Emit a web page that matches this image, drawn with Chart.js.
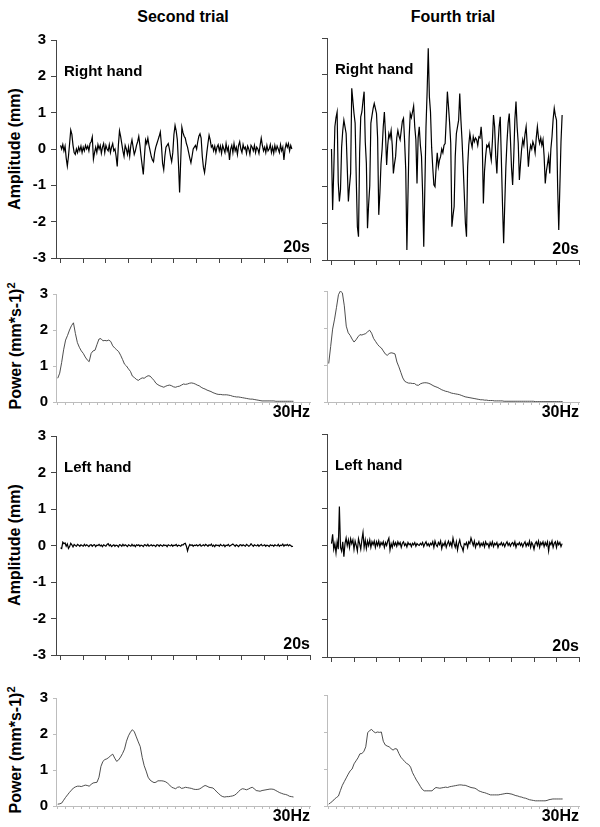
<!DOCTYPE html>
<html>
<head>
<meta charset="utf-8">
<script src="https://cdn.jsdelivr.net/npm/chart.js@4.4.1/dist/chart.umd.min.js"></script>
<style>
  body { margin: 0; background: #fff; }
  #fig { position: relative; width: 600px; height: 827px; background: #fff;
         font-family: "Liberation Sans", Arial, sans-serif; color: #000; }
  #fig canvas { position: absolute; }
  .head { position: absolute; transform: translate(-50%, -50%); font-weight: bold; font-size: 16px; white-space: nowrap; }
  .ytitle { position: absolute; left: 15px; transform: translate(-50%, -50%) rotate(-90deg);
            font-weight: bold; font-size: 16px; white-space: nowrap; }
  .ytitle sup { font-size: 11px; }
</style>
</head>
<body>
<div id="fig">
  <div class="head" style="left:183px;top:17px">Second trial</div>
  <div class="head" style="left:453px;top:17px">Fourth trial</div>
  <div class="ytitle" style="top:149px">Amplitude (mm)</div>
  <div class="ytitle" style="top:346px">Power (mm*s-1)<sup>2</sup></div>
  <div class="ytitle" style="top:545px">Amplitude (mm)</div>
  <div class="ytitle" style="top:750px">Power (mm*s-1)<sup>2</sup></div>

  <canvas id="c1" width="318" height="246" style="left:0;top:26px"></canvas>
  <canvas id="c2" width="288" height="246" style="left:312px;top:26px"></canvas>
  <canvas id="c3" width="318" height="142" style="left:0;top:280px"></canvas>
  <canvas id="c4" width="288" height="142" style="left:312px;top:280px"></canvas>
  <canvas id="c5" width="318" height="247" style="left:0;top:422px"></canvas>
  <canvas id="c6" width="288" height="247" style="left:312px;top:422px"></canvas>
  <canvas id="c7" width="318" height="143" style="left:0;top:684px"></canvas>
  <canvas id="c8" width="288" height="143" style="left:312px;top:684px"></canvas>
</div>
<script>
// tick values
const ampTicks = [-3, -2, -1, 0, 1, 2, 3];
const powerTicks = [0, 1, 2, 3];
const timeTicks = [0, 2, 4, 6, 8, 10, 12, 14, 16, 18, 20, 22];
const freqTicks = [0, 1, 2, 3, 4, 5, 6, 7, 8, 9, 10, 11, 12, 13, 14, 15, 16,
                   17, 18, 19, 20, 21, 22, 23, 24, 25, 26, 27, 28, 29, 30, 31, 32];

// sampling steps (s, Hz)
const dtAmp = 0.1;
const dfPower = 0.25;

// amplitude traces (mm), one sample every 0.1 s
const rightSecond = [
  0.1, 0.0, 0.12, -0.05, 0.08, -0.25, -0.47, -0.2, 0.15, 0.52,
  0.4, 0.1, -0.1, -0.15, 0.0, -0.1, 0.05, -0.05, 0.08, -0.1,
  0.05, -0.05, 0.1, 0.0, 0.08, -0.05, 0.15, 0.2, 0.33, -0.28,
  -0.1, 0.05, -0.1, 0.12, 0.0, 0.1, -0.12, 0.05, 0.15, -0.1,
  0.1, 0.0, -0.05, 0.12, -0.1, 0.05, 0.15, -0.05, 0.0, -0.2,
  -0.48, 0.1, 0.5, 0.35, 0.15, -0.05, -0.2, 0.1, 0.0, -0.15,
  0.05, -0.2, 0.1, 0.25, 0.05, -0.15, -0.05, 0.1, 0.2, 0.35,
  0.1, -0.2, -0.45, -0.7, -0.2, 0.25, 0.15, 0.3, 0.1, -0.05,
  -0.2, -0.3, -0.35, -0.1, 0.05, 0.15, 0.25, 0.35, 0.47, 0.1,
  -0.4, -0.57, -0.2, 0.05, 0.1, 0.15, 0.0, -0.2, -0.35, -0.1,
  0.4, 0.65, 0.5, 0.25, -0.4, -1.2, -0.3, 0.6, 0.45, 0.35,
  0.3, 0.15, 0.05, -0.1, -0.25, -0.38, -0.2, 0.0, 0.05, 0.1,
  0.0, 0.2, 0.35, 0.42, 0.3, -0.2, -0.5, -0.65, -0.4, -0.1,
  0.15, 0.38, 0.25, 0.05, 0.1, -0.05, 0.08, -0.1, 0.05, 0.12,
  -0.05, 0.08, -0.12, 0.1, 0.0, -0.1, 0.15, -0.05, 0.05, -0.3,
  0.0, 0.1, -0.1, 0.15, -0.05, 0.05, -0.15, 0.1, 0.2, 0.0,
  -0.1, 0.12, 0.0, 0.05, -0.12, 0.08, 0.0, -0.15, 0.1, 0.05,
  -0.05, 0.1, -0.1, 0.05, 0.0, -0.12, 0.1, 0.3, 0.1, -0.05,
  0.05, -0.1, 0.1, -0.05, 0.0, 0.12, -0.1, 0.05, -0.12, 0.1,
  -0.05, 0.08, 0.0, -0.1, 0.12, -0.05, 0.05, -0.3, 0.0, 0.15,
  0.05, 0.15, -0.05, 0.1, 0.0
];

const rightFourth = [
  0.0, -1.65, -0.6, 0.6, 0.85, 1.0, -0.9, -1.42, -1.1, 0.05,
  0.5, 0.78, 0.6, 0.42, -0.5, -1.42, -1.0, -0.66, 1.64, 1.3,
  0.96, 0.7, -0.8, -2.1, -2.37, -0.1, 0.87, 1.0, 1.3, 1.55,
  0.2, -0.39, -2.14, -1.5, -1.0, 0.7, 0.9, 1.1, 1.23, 1.1,
  0.96, 0.3, -1.78, -1.2, -0.4, 0.0, 0.6, 1.0, 0.4, -0.43,
  0.1, 0.42, 0.3, 0.5, 0.1, -0.66, -0.4, -0.2, 0.3, 0.5,
  0.35, 0.25, 0.5, 0.75, 0.83, 0.2, -0.57, -2.73, -1.2, 0.3,
  0.96, 0.85, 1.0, 1.16, 0.6, 0.25, -0.93, 0.3, 0.6, 0.1,
  -0.2, -1.2, -2.64, -1.0, 0.6, 1.55, 2.72, 1.41, 1.0, 0.05,
  -0.5, -0.97, -1.02, -0.5, -0.1, -0.48, -0.3, -0.2, 0.0, -0.1,
  0.1, 0.15, 0.8, 1.55, 1.14, 0.7, 0.15, -2.1, -1.8, -1.56,
  -0.2, 0.42, 0.6, 0.78, 1.5, 0.8, 0.25, -0.43, -1.2, -2.0,
  -2.37, -0.48, 0.1, 0.42, 0.2, 0.05, 0.33, 0.2, 0.3, 0.25,
  0.1, 0.33, 0.3, 0.6, 0.2, -1.47, -0.6, -0.2, 0.1, 0.05,
  0.15, -0.1, -0.3, 0.2, 0.92, 0.6, -0.2, -0.66, 0.1, 0.6,
  0.87, -0.3, -1.5, -2.55, -1.5, -0.48, 0.2, 0.7, 0.96, 0.3,
  -0.5, -0.97, -0.2, 0.8, 1.28, 0.6, 0.15, -0.84, -0.4, 0.0,
  0.25, 0.1, 0.4, 0.6, 0.1, -0.48, -0.1, 0.1, 0.0, 0.2,
  0.1, -0.1, 0.3, 0.6, 0.3, 0.15, 0.3, 0.1, 0.25, -0.2,
  -0.93, -0.6, -0.4, -0.2, -0.66, 0.0, 0.33, 0.8, 1.1, 0.9,
  0.78, -1.0, -2.19, -1.0, 0.2, 0.92
];

const leftSecond = [
  -0.06, -0.08, 0.09, 0.05, 0.07, -0.02, 0.04, -0.08, -0.03, 0.06,
  0.02, -0.04, 0.03, 0.0, -0.02, 0.03, 0.01, -0.02, 0.02, 0.0,
  -0.02, 0.03, -0.01, 0.02, 0.0, -0.03, 0.01, 0.02, -0.02, 0.01,
  0.02, -0.03, 0.01, 0.0, 0.03, -0.01, 0.01, -0.03, 0.02, 0.0,
  -0.02, 0.03, 0.05, -0.01, 0.02, -0.03, 0.0, 0.02, -0.02, 0.01,
  0.0, -0.04, 0.02, 0.01, -0.02, 0.03, -0.01, 0.02, 0.0, -0.03,
  0.02, 0.0, -0.02, 0.03, -0.01, 0.01, -0.03, 0.02, 0.0, 0.02,
  -0.02, 0.01, 0.0, -0.03, 0.02, 0.01, -0.01, 0.03, -0.02, 0.0,
  0.02, -0.01, 0.01, 0.0, -0.03, 0.02, 0.01, -0.02, 0.02, 0.0,
  -0.02, 0.02, 0.0, 0.01, -0.03, 0.02, 0.0, -0.01, 0.02, -0.02,
  0.01, 0.0, 0.03, -0.02, 0.01, 0.0, -0.02, 0.02, 0.01, 0.05,
  0.06, -0.02, -0.15, -0.04, 0.03, 0.0, 0.02, -0.02, 0.01, 0.0,
  0.02, -0.01, 0.01, 0.03, -0.02, 0.0, 0.02, -0.01, 0.03, 0.01,
  -0.02, 0.02, 0.0, 0.04, -0.02, 0.01, -0.03, 0.02, 0.0, 0.01,
  -0.02, 0.03, 0.0, -0.01, 0.02, -0.03, 0.01, 0.0, 0.03, -0.02,
  0.0, 0.02, 0.04, 0.01, -0.02, 0.02, 0.0, -0.03, 0.01, 0.02,
  -0.01, 0.02, 0.0, -0.02, 0.03, 0.01, -0.02, 0.0, 0.05, 0.01,
  -0.02, 0.02, 0.0, -0.01, 0.02, -0.02, 0.01, 0.03, -0.01, 0.0,
  0.02, -0.02, 0.01, 0.0, -0.03, 0.02, 0.0, 0.01, -0.02, 0.02,
  0.0, -0.01, 0.03, -0.02, 0.01, 0.0, 0.04, -0.02, 0.02, 0.0,
  0.03, -0.01, 0.02, 0.0, -0.03, -0.02
];

const leftFourth = [
  0.05, 0.3, -0.1, 0.05, -0.2, 0.1, -0.1, 1.05, -0.05, -0.15,
  0.1, -0.3, 0.05, 0.2, 0.0, 0.15, -0.05, 0.18, 0.05, 0.15,
  -0.1, 0.12, 0.0, -0.15, 0.18, 0.05, -0.1, 0.15, 0.35, -0.05,
  0.15, -0.08, 0.12, 0.0, 0.15, -0.05, 0.1, 0.02, 0.12, -0.05,
  0.1, 0.0, 0.12, -0.03, 0.08, 0.02, 0.1, -0.05, 0.08, 0.0,
  0.12, 0.2, -0.12, 0.05, -0.05, 0.1, 0.0, 0.08, -0.02, 0.1,
  0.02, 0.08, -0.05, 0.06, 0.1, 0.0, 0.05, -0.04, 0.08, 0.02,
  0.05, -0.03, 0.06, 0.02, 0.08, -0.02, 0.05, 0.02, 0.0, 0.06,
  0.02, 0.08, -0.03, 0.05, 0.1, 0.0, 0.05, -0.02, 0.06, 0.02,
  0.1, -0.05, 0.12, 0.02, -0.03, 0.08, 0.02, 0.12, -0.08, 0.05,
  0.0, 0.1, -0.05, 0.05, 0.12, 0.0, 0.08, -0.03, 0.2, 0.05,
  -0.05, 0.1, -0.12, 0.05, 0.15, 0.0, -0.05, -0.15, 0.05, 0.02,
  0.08, -0.05, 0.1, 0.05, 0.2, 0.1, 0.0, 0.12, -0.05, 0.06,
  0.02, 0.1, -0.03, 0.06, 0.0, 0.08, -0.04, 0.1, 0.02, 0.05,
  -0.05, 0.08, 0.0, 0.1, -0.03, 0.06, 0.02, 0.08, -0.05, 0.04,
  0.02, 0.08, 0.0, 0.06, -0.03, 0.05, 0.1, 0.0, 0.06, -0.02,
  0.05, 0.08, 0.0, 0.1, -0.05, 0.05, 0.02, 0.08, 0.0, 0.06,
  -0.03, 0.05, 0.1, -0.02, 0.06, 0.0, 0.12, -0.05, 0.08, 0.02,
  -0.1, 0.05, 0.1, 0.0, 0.12, -0.05, 0.08, 0.02, 0.1, -0.03,
  0.08, 0.0, 0.1, -0.15, 0.08, 0.02, 0.12, -0.05, 0.06, 0.1,
  -0.05, 0.1, 0.02, 0.08, -0.03, 0.05
];

// power spectra, (mm*s-1)^2, one value every 0.25 Hz from 0 to 30 Hz
const powRightSecond = [
  0.66, 0.8, 1.1, 1.45, 1.72, 1.85, 2.0, 2.12, 2.2, 1.9,
  1.65, 1.52, 1.42, 1.35, 1.25, 1.17, 1.12, 1.35, 1.42, 1.44,
  1.6, 1.75, 1.76, 1.7, 1.71, 1.7, 1.72, 1.68, 1.56, 1.5,
  1.45, 1.4, 1.3, 1.18, 1.05, 1.0, 0.92, 0.85, 0.72, 0.68,
  0.63, 0.6, 0.64, 0.67, 0.66, 0.7, 0.73, 0.72, 0.66, 0.6,
  0.52, 0.48, 0.45, 0.43, 0.41, 0.44, 0.46, 0.47, 0.45, 0.42,
  0.41, 0.43, 0.44, 0.47, 0.5, 0.49, 0.5, 0.52, 0.53, 0.52,
  0.5, 0.47, 0.45, 0.41, 0.38, 0.36, 0.33, 0.31, 0.29, 0.26,
  0.24, 0.22, 0.21, 0.21, 0.2, 0.2, 0.2, 0.19, 0.18, 0.16,
  0.15, 0.14, 0.14, 0.13, 0.12, 0.11, 0.1, 0.09, 0.08, 0.08,
  0.07, 0.06, 0.05, 0.04, 0.03, 0.03, 0.03, 0.03, 0.03, 0.03,
  0.03, 0.02, 0.02, 0.02, 0.02, 0.02, 0.02, 0.02, 0.02, 0.02,
  0.02
];

const powRightFourth = [
  1.04, 1.5, 1.97, 2.24, 2.56, 2.9, 3.0, 2.95, 2.6, 2.05,
  1.87, 1.8, 1.7, 1.62, 1.68, 1.76, 1.82, 1.81, 1.83, 1.85,
  1.9, 1.94, 1.86, 1.72, 1.64, 1.56, 1.5, 1.46, 1.38, 1.3,
  1.26, 1.31, 1.33, 1.32, 1.3, 1.08, 0.95, 0.8, 0.65, 0.56,
  0.53, 0.51, 0.51, 0.5, 0.5, 0.46, 0.45, 0.49, 0.51, 0.52,
  0.52, 0.51, 0.49, 0.46, 0.43, 0.41, 0.39, 0.36, 0.33, 0.31,
  0.29, 0.28, 0.26, 0.24, 0.23, 0.22, 0.21, 0.2, 0.18, 0.16,
  0.14, 0.13, 0.12, 0.11, 0.1, 0.09, 0.08, 0.07, 0.06, 0.06,
  0.05, 0.05, 0.04, 0.04, 0.04, 0.03, 0.03, 0.03, 0.03, 0.03,
  0.02, 0.02, 0.02, 0.02, 0.02, 0.02, 0.02, 0.02, 0.02, 0.02,
  0.02, 0.02, 0.02, 0.02, 0.02, 0.02, 0.01, 0.01, 0.01, 0.01,
  0.01, 0.01, 0.01, 0.01, 0.01, 0.01, 0.01, 0.01, 0.01, 0.01,
  0.01
];

const powLeftSecond = [
  0.05, 0.06, 0.08, 0.16, 0.24, 0.31, 0.38, 0.44, 0.5, 0.53,
  0.55, 0.55, 0.54, 0.56, 0.58, 0.57, 0.55, 0.6, 0.64, 0.65,
  0.66, 0.8, 1.1, 1.24, 1.29, 1.31, 1.35, 1.4, 1.44, 1.33,
  1.24, 1.28, 1.36, 1.46, 1.58, 1.8, 1.95, 2.05, 2.12, 2.06,
  1.92, 1.78, 1.65, 1.35, 1.12, 0.97, 0.8, 0.72, 0.68, 0.65,
  0.66, 0.7, 0.7, 0.7, 0.69, 0.67, 0.63, 0.58, 0.52, 0.5,
  0.48, 0.52, 0.53, 0.49, 0.5, 0.52, 0.51, 0.5, 0.49, 0.47,
  0.46, 0.46, 0.47, 0.5, 0.54, 0.57, 0.55, 0.52, 0.51, 0.5,
  0.45, 0.39, 0.34, 0.29, 0.26, 0.25, 0.26, 0.26, 0.27, 0.28,
  0.3, 0.34, 0.4, 0.45, 0.48, 0.47, 0.45, 0.47, 0.5, 0.52,
  0.48, 0.43, 0.42, 0.41, 0.43, 0.44, 0.45, 0.46, 0.47, 0.47,
  0.46, 0.43, 0.4, 0.37, 0.35, 0.33, 0.32, 0.3, 0.27, 0.26,
  0.25
];

const powLeftFourth = [
  0.05, 0.09, 0.13, 0.19, 0.23, 0.27, 0.42, 0.56, 0.66, 0.76,
  0.86, 0.95, 1.0, 1.14, 1.22, 1.3, 1.41, 1.42, 1.47, 1.6,
  1.98, 2.04, 2.07, 2.01, 1.98, 2.0, 1.99, 2.0, 1.75, 1.65,
  1.62, 1.6, 1.55, 1.51, 1.55, 1.54, 1.42, 1.32, 1.26, 1.2,
  1.15, 1.12, 1.05, 0.9, 0.8, 0.7, 0.62, 0.53, 0.45, 0.41,
  0.41, 0.41, 0.41, 0.41, 0.46, 0.5, 0.49, 0.48, 0.49, 0.5,
  0.51, 0.5, 0.52, 0.53, 0.54, 0.55, 0.56, 0.57, 0.57, 0.56,
  0.56, 0.54, 0.52, 0.5, 0.49, 0.48, 0.45, 0.41, 0.39, 0.37,
  0.36, 0.34, 0.32, 0.3, 0.3, 0.3, 0.3, 0.3, 0.31, 0.32,
  0.33, 0.34, 0.34, 0.33, 0.32, 0.3, 0.28, 0.27, 0.25, 0.24,
  0.22, 0.21, 0.19, 0.17, 0.16, 0.15, 0.14, 0.14, 0.14, 0.14,
  0.14, 0.14, 0.15, 0.17, 0.18, 0.19, 0.19, 0.19, 0.19, 0.19,
  0.19
];

const FONT = '"Liberation Sans", Arial, sans-serif';
Chart.defaults.font.family = FONT;

// in-panel labels ("Right hand", "20s", "30Hz")
const panelText = {
  id: 'panelText',
  afterDraw(chart, args, opts) {
    const { ctx, chartArea: a } = chart;
    ctx.save();
    ctx.fillStyle = '#000';
    ctx.textBaseline = 'middle';
    if (opts.label) {
      ctx.font = 'bold 15px ' + FONT;
      ctx.textAlign = 'left';
      ctx.fillText(opts.label, a.left + 8, a.top + 32);
    }
    if (opts.unit) {
      ctx.font = 'bold 16px ' + FONT;
      ctx.textAlign = 'right';
      ctx.fillText(opts.unit, a.right, opts.below ? a.bottom + 11 : a.bottom - 10);
    }
    ctx.restore();
  }
};

function toPoints(vals, step) {
  return vals.map((v, i) => ({ x: i * step, y: v }));
}

function drawPanel(id, p) {
  const amp = p.kind === 'amp';
  const left = p.col === 'left';
  const axisColor = amp ? '#444' : '#bdbdbd';
  new Chart(document.getElementById(id), {
    type: 'line',
    data: {
      datasets: [{
        data: toPoints(p.values, amp ? dtAmp : dfPower),
        borderColor: amp ? '#000' : '#3a3a3a',
        borderWidth: amp ? 1.2 : 0.9,
        pointRadius: 0,
        tension: 0,
      }]
    },
    options: {
      responsive: false,
      animation: false,
      events: [],
      layout: { padding: { top: p.padTop, right: left ? 8 : 21, left: 0, bottom: 0 } },
      plugins: {
        legend: { display: false },
        tooltip: { enabled: false },
        panelText: { label: p.label, unit: amp ? '20s' : '30Hz', below: !amp },
      },
      scales: {
        x: {
          type: 'linear',
          bounds: 'data',
          min: amp ? -0.4 : -0.22,
          max: amp ? 22 : 32.1,
          afterBuildTicks: (s) => { s.ticks = (amp ? timeTicks : freqTicks).map(v => ({ value: v })); },
          afterFit: (s) => { s.height = p.xAxisH; },
          ticks: { display: false, autoSkip: false },
          grid: { drawOnChartArea: false, drawTicks: true, tickLength: amp ? 5 : 3, color: axisColor },
          border: { display: true, color: axisColor, width: 1 },
        },
        y: {
          type: 'linear',
          bounds: 'data',
          min: amp ? -3 : 0,
          max: 3,
          afterBuildTicks: (s) => { s.ticks = (amp ? ampTicks : powerTicks).map(v => ({ value: v })); },
          afterFit: (s) => { s.width = left ? 56 : 15; },
          ticks: {
            display: left,
            autoSkip: false,
            color: '#000',
            padding: 5,
            font: { size: 15, weight: 'bold' },
          },
          grid: { drawOnChartArea: false, drawTicks: true, tickLength: amp ? 5 : 3, color: axisColor },
          border: { display: true, color: axisColor, width: 1 },
        },
      },
    },
    plugins: [panelText],
  });
}

drawPanel('c1', { kind: 'amp', col: 'left', values: rightSecond, label: 'Right hand', padTop: 12, xAxisH: 12 });
drawPanel('c2', { kind: 'amp', col: 'right', values: rightFourth, label: 'Right hand', padTop: 12, xAxisH: 12 });
drawPanel('c3', { kind: 'power', col: 'left', values: powRightSecond, padTop: 11, xAxisH: 20 });
drawPanel('c4', { kind: 'power', col: 'right', values: powRightFourth, padTop: 11, xAxisH: 20 });
drawPanel('c5', { kind: 'amp', col: 'left', values: leftSecond, label: 'Left hand', padTop: 12, xAxisH: 12 });
drawPanel('c6', { kind: 'amp', col: 'right', values: leftFourth, label: 'Left hand', padTop: 12, xAxisH: 12 });
drawPanel('c7', { kind: 'power', col: 'left', values: powLeftSecond, padTop: 11, xAxisH: 21 });
drawPanel('c8', { kind: 'power', col: 'right', values: powLeftFourth, padTop: 11, xAxisH: 21 });
</script>
</body>
</html>
